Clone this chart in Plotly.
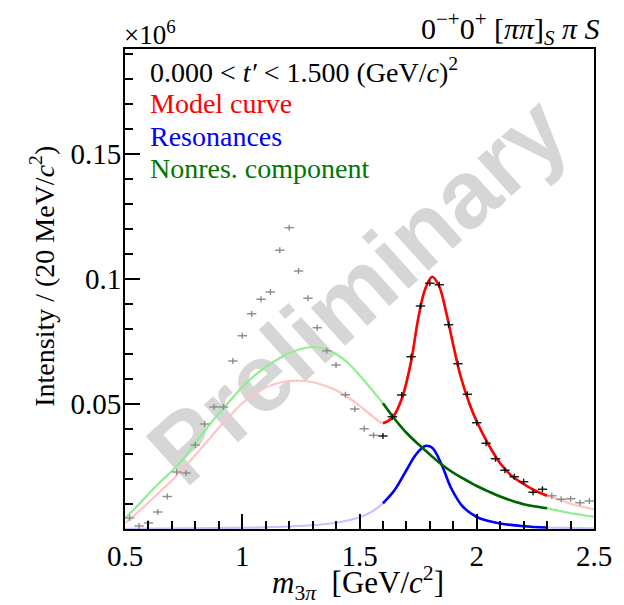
import plotly.graph_objects as go

# ---------------- data ----------------
data_m = [0.52, 0.56, 0.60, 0.64, 0.68, 0.72, 0.76, 0.80, 0.84, 0.88,
          0.92, 0.96, 1.00, 1.04, 1.08, 1.12, 1.16, 1.20, 1.24, 1.28,
          1.32, 1.36, 1.40, 1.44, 1.48, 1.52, 1.56, 1.60, 1.64, 1.68,
          1.72, 1.76, 1.80, 1.84, 1.88, 1.92, 1.96, 2.00, 2.04, 2.08,
          2.12, 2.16, 2.20, 2.24, 2.28, 2.32, 2.36, 2.40, 2.44, 2.48]
data_v = [0.0044, 0.0012, 0.0024, 0.0068, 0.0130, 0.0228, 0.0224, 0.0336, 0.0420, 0.0488,
          0.0488, 0.0672, 0.0773, 0.0861, 0.0919, 0.0948, 0.1115, 0.1205, 0.1032, 0.0923,
          0.0805, 0.0713, 0.0656, 0.0537, 0.0480, 0.0401, 0.0375, 0.0372, 0.0449, 0.0536,
          0.0689, 0.0892, 0.0983, 0.0977, 0.0817, 0.0661, 0.0539, 0.0425, 0.0343, 0.0281,
          0.0235, 0.0209, 0.0189, 0.0147, 0.0159, 0.0133, 0.0119, 0.0121, 0.0105, 0.0112]

model_m = [0.50, 0.55, 0.60, 0.65, 0.70, 0.75, 0.80, 0.85, 0.90, 0.95,
           1.00, 1.05, 1.10, 1.15, 1.20, 1.25, 1.30, 1.35, 1.40, 1.45,
           1.50, 1.55, 1.60, 1.64, 1.68, 1.72, 1.75, 1.78, 1.81, 1.84,
           1.87, 1.90, 1.93, 1.97, 2.00, 2.05, 2.10, 2.15, 2.20, 2.25,
           2.30, 2.35, 2.40, 2.45, 2.50]
model_v = [0.0023, 0.0063, 0.0106, 0.0150, 0.0194, 0.0245, 0.0296, 0.0350, 0.0405, 0.0455,
           0.0503, 0.0538, 0.0566, 0.0583, 0.0592, 0.0593, 0.0587, 0.0574, 0.0555, 0.0527,
           0.0493, 0.0455, 0.0423, 0.0445, 0.0520, 0.0670, 0.0840, 0.0960, 0.1009, 0.0970,
           0.0865, 0.0735, 0.0615, 0.0498, 0.0430, 0.0338, 0.0263, 0.0212, 0.0180, 0.0153,
           0.0133, 0.0118, 0.0101, 0.0089, 0.0079]

res_m = [0.50, 0.60, 0.70, 0.80, 0.90, 1.00, 1.10, 1.20, 1.30, 1.40,
         1.45, 1.50, 1.55, 1.60, 1.65, 1.70, 1.74, 1.78, 1.81, 1.85,
         1.89, 1.94, 2.00, 2.05, 2.10, 2.20, 2.30, 2.40, 2.50]
res_v = [0.0001, 0.0002, 0.0002, 0.0003, 0.0004, 0.0005, 0.0007, 0.0010, 0.0015, 0.0025,
         0.0034, 0.0047, 0.0068, 0.0103, 0.0156, 0.0235, 0.0297, 0.0332, 0.0325, 0.0258,
         0.0165, 0.0090, 0.0048, 0.0032, 0.0022, 0.0011, 0.0006, 0.0004, 0.0003]

nonres_m = [0.50, 0.55, 0.60, 0.65, 0.70, 0.75, 0.80, 0.85, 0.90, 0.95,
            1.00, 1.05, 1.10, 1.15, 1.20, 1.25, 1.30, 1.35, 1.40, 1.45,
            1.50, 1.55, 1.60, 1.65, 1.70, 1.75, 1.80, 1.85, 1.90, 1.95,
            2.00, 2.05, 2.10, 2.15, 2.20, 2.25, 2.30, 2.35, 2.40, 2.45, 2.50]
nonres_v = [0.0043, 0.0090, 0.0140, 0.0188, 0.0232, 0.0282, 0.0345, 0.0405, 0.0462, 0.0515,
            0.0568, 0.0612, 0.0648, 0.0678, 0.0703, 0.0720, 0.0728, 0.0722, 0.0700, 0.0665,
            0.0615, 0.0560, 0.0503, 0.0440, 0.0385, 0.0340, 0.0298, 0.0258, 0.0225, 0.0198,
            0.0172, 0.0150, 0.0130, 0.0113, 0.0099, 0.0090, 0.0083, 0.0073, 0.0063, 0.0056, 0.0049]

FIT_LO, FIT_HI = 1.6, 2.3
y_err = 0.0012
x_half = 0.02

X_RANGE = [0.5, 2.5]
Y_RANGE = [0, 0.192]
x_tickvals = [0.5, 1, 1.5, 2, 2.5]
x_ticktext = ["0.5", "1", "1.5", "2", "2.5"]
y_tickvals = [0.05, 0.1, 0.15]
y_ticktext = ["0.05", "0.1", "0.15"]
X_MINOR_STEP = 0.1
Y_MINOR_STEP = 0.01

legend_lines = [
    ("0.000 &lt; <i>t\u2032</i> &lt; 1.500 (GeV/<i>c</i>)<sup>2</sup>", "black"),
    ("Model curve", "#ff0000"),
    ("Resonances", "#0000ff"),
    ("Nonres. component", "#007700"),
]

# ---------------- figure ----------------
W, H = 624, 605
L, R, T, B = 125, 604, 49, 529
SERIF = "Liberation Serif, Times New Roman, serif"
MAJOR_LEN, MINOR_LEN, TICK_W = 15, 8, 2
TICK_COLOR = "#000000"


def px(xp):
    return (xp - L) / (R - L)


def py(yp):
    return (B - yp) / (B - T)


def in_fit(m):
    return FIT_LO - 1e-9 <= m <= FIT_HI + 1e-9


fig = go.Figure()

curves = [
    (res_m, res_v, "#c4c4ff", "#0000ff"),
    (nonres_m, nonres_v, "#90ee90", "#006400"),
    (model_m, model_v, "#ffc4c4", "#ff0000"),
]
for ms, vs, light, dark in curves:
    fig.add_trace(go.Scatter(x=ms, y=vs, mode="lines",
                             line=dict(color=light, width=2.2, shape="spline", smoothing=1.0),
                             hoverinfo="skip", showlegend=False))
for ms, vs, light, dark in curves:
    xs = [m for m in ms if in_fit(m)]
    ys = [v for m, v in zip(ms, vs) if in_fit(m)]
    fig.add_trace(go.Scatter(x=xs, y=ys, mode="lines",
                             line=dict(color=dark, width=2.6, shape="spline", smoothing=1.0),
                             hoverinfo="skip", showlegend=False))

# data points: grey outside fit range, black inside
gx = [m for m in data_m if not in_fit(m)]
gy = [v for m, v in zip(data_m, data_v) if not in_fit(m)]
kx = [m for m in data_m if in_fit(m)]
ky = [v for m, v in zip(data_m, data_v) if in_fit(m)]
for xs, ys, col in [(gx, gy, "#8c8c8c"), (kx, ky, "#111111")]:
    fig.add_trace(go.Scatter(
        x=xs, y=ys, mode="markers", marker=dict(size=1, color=col),
        error_x=dict(type="constant", value=x_half, width=0, thickness=1.4, color=col),
        error_y=dict(type="constant", value=y_err, width=0, thickness=1.4, color=col),
        hoverinfo="skip", showlegend=False))

tickfont = dict(family=SERIF, size=29, color="black")
fig.update_layout(
    xaxis=dict(range=X_RANGE, tickmode="array", tickvals=x_tickvals, ticktext=x_ticktext,
               showline=True, linecolor="black", linewidth=2, mirror=True,
               ticks="inside", ticklen=MAJOR_LEN, tickwidth=TICK_W, tickcolor=TICK_COLOR,
               minor=dict(ticks="inside", ticklen=MINOR_LEN, tickwidth=TICK_W,
                          tickcolor=TICK_COLOR, tickmode="linear", tick0=X_RANGE[0],
                          dtick=X_MINOR_STEP, showgrid=False),
               showgrid=False, zeroline=False, tickfont=tickfont),
    yaxis=dict(range=Y_RANGE, tickmode="array", tickvals=y_tickvals, ticktext=y_ticktext,
               showline=True, linecolor="black", linewidth=2, mirror=True,
               ticks="inside", ticklen=MAJOR_LEN, tickwidth=TICK_W, tickcolor=TICK_COLOR,
               minor=dict(ticks="inside", ticklen=MINOR_LEN, tickwidth=TICK_W,
                          tickcolor=TICK_COLOR, tickmode="linear", tick0=Y_RANGE[0],
                          dtick=Y_MINOR_STEP, showgrid=False),
               showgrid=False, zeroline=False, tickfont=tickfont,
               ticklabelstandoff=-4),
)

# watermark
shapes = [dict(type="rect", xref="paper", yref="paper",
               x0=px(356) - 0.3, x1=px(356) + 0.3, y0=py(283) - 0.3, y1=py(283) + 0.3,
               line=dict(width=0), fillcolor="rgba(0,0,0,0)", layer="below",
               label=dict(text="Preliminary", textangle=-42, textposition="middle center",
                          font=dict(family="Liberation Sans, Arial, sans-serif", size=96,
                                    color="#d6d6d6", weight="bold")))]

annotations = []
# axis titles
annotations.append(dict(text="<i>m</i><sub>3<i>\u03c0</i></sub>  [GeV/<i>c</i><sup>2</sup>]",
                        x=px(363), y=py(583), xref="paper", yref="paper",
                        xanchor="center", yanchor="middle", showarrow=False,
                        font=dict(family=SERIF, size=31, color="black")))
annotations.append(dict(text="Intensity / (20 MeV/<i>c</i><sup>2</sup>)",
                        x=px(40), y=py(276), xref="paper", yref="paper",
                        xanchor="center", yanchor="middle", textangle=-90, showarrow=False,
                        font=dict(family=SERIF, size=28, color="black")))
# multiplier
annotations.append(dict(text="\u00d710<sup>6</sup>", x=px(122), y=py(33), xref="paper", yref="paper",
                        xanchor="left", yanchor="middle", showarrow=False,
                        font=dict(family=SERIF, size=27, color="black")))
# top-right title
annotations.append(dict(text="0<sup>\u2212+</sup>0<sup>+</sup> [<i>\u03c0\u03c0</i>]<sub><i>S</i></sub> <i>\u03c0 S</i>",
                        x=px(612), y=py(28), xref="paper", yref="paper",
                        xanchor="right", yanchor="middle", showarrow=False,
                        font=dict(family=SERIF, size=30, color="black")))
# legend text
for i, (txt, col) in enumerate(legend_lines):
    annotations.append(dict(text=txt, x=px(148), y=py(71 + 32.5 * i), xref="paper", yref="paper",
                            xanchor="left", yanchor="middle", showarrow=False,
                            font=dict(family=SERIF, size=28, color=col)))

fig.update_layout(
    width=W, height=H,
    margin=dict(l=L, r=W - R, t=T, b=H - B, pad=0),
    paper_bgcolor="white", plot_bgcolor="white",
    showlegend=False,
    annotations=annotations,
    shapes=shapes,
)

fig.write_html("out.html")
